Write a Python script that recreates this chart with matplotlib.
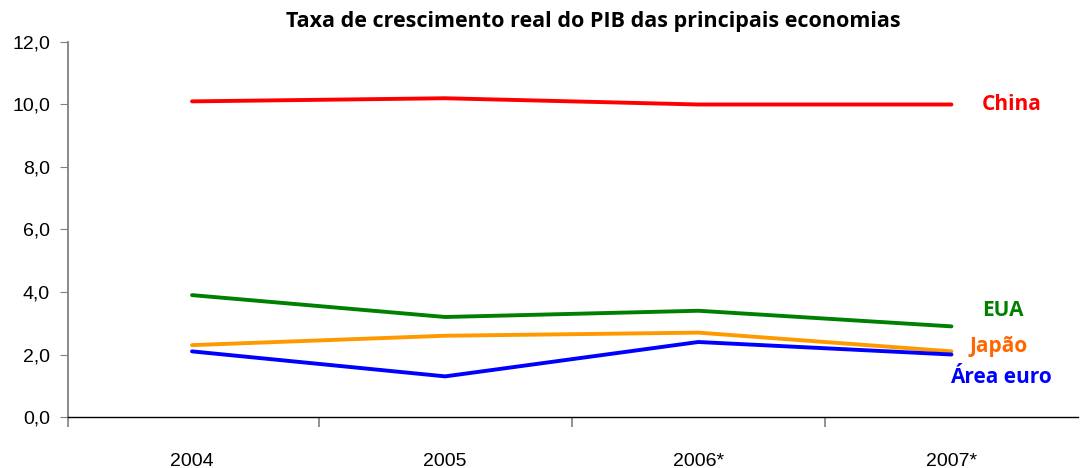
import matplotlib.pyplot as plt
from matplotlib.ticker import FixedLocator

# data
years = ["2004", "2005", "2006*", "2007*"]
china = [10.1, 10.2, 10.0, 10.0]
eua = [3.9, 3.2, 3.4, 2.9]
japao = [2.3, 2.6, 2.7, 2.1]
area_euro = [2.1, 1.3, 2.4, 2.0]

yticks = [0, 2, 4, 6, 8, 10, 12]
ytick_labels = ["0,0", "2,0", "4,0", "6,0", "8,0", "10,0", "12,0"]

fig = plt.figure(figsize=(10.8, 4.68), dpi=100)
ax = fig.add_axes([68 / 1080, 51 / 468, 1010 / 1080, 375 / 468])

x = list(range(len(years)))
ax.plot(x, china, color="#ff0000", lw=2.8, solid_capstyle="round")
ax.plot(x, eua, color="#008000", lw=2.8, solid_capstyle="round")
ax.plot(x, japao, color="#ff9900", lw=2.8, solid_capstyle="round")
ax.plot(x, area_euro, color="#0000ff", lw=2.8, solid_capstyle="round")

lab_font = dict(family=["Open Sans", "DejaVu Sans"], weight="bold", fontsize=15)
ax.text(3.12, china[3], "China", color="#ff0000", va="center", ha="left", **lab_font)
ax.text(3.12, eua[3] + 0.5, "EUA", color="#008000", va="center", ha="left", **lab_font)
ax.text(3.07, japao[3] + 0.16, "Japão", color="#ff6600", va="center", ha="left", **lab_font)
ax.text(2.995, area_euro[3] - 0.75, "Área euro", color="#0000ff", va="center", ha="left", **lab_font)

ax.set_xlim(-0.49, 3.5)
ax.set_ylim(0, 12)

ax.set_yticks(yticks)
ax.set_yticklabels(ytick_labels, family="Liberation Sans", fontsize=14)
ax.tick_params(axis="y", length=6, color="#808080", pad=7)

ax.set_xticks(x)
ax.set_xticklabels(years, family="Liberation Sans", fontsize=14)
ax.xaxis.set_minor_locator(FixedLocator([-0.49, 0.5, 1.5, 2.5]))
ax.tick_params(axis="x", which="major", length=0, pad=26)
ax.tick_params(axis="x", which="minor", length=7, color="#808080", width=1.2)

for s in ["top", "right"]:
    ax.spines[s].set_visible(False)
ax.spines["left"].set_color("#808080")
ax.spines["left"].set_linewidth(1.3)
ax.spines["bottom"].set_color("black")
ax.spines["bottom"].set_linewidth(1.0)

fig.text(0.549, 0.953, "Taxa de crescimento real do PIB das principais economias",
         ha="center", va="center", family=["Open Sans", "DejaVu Sans"], weight="bold", fontsize=15.5)

fig.savefig("out.png", dpi=100)
